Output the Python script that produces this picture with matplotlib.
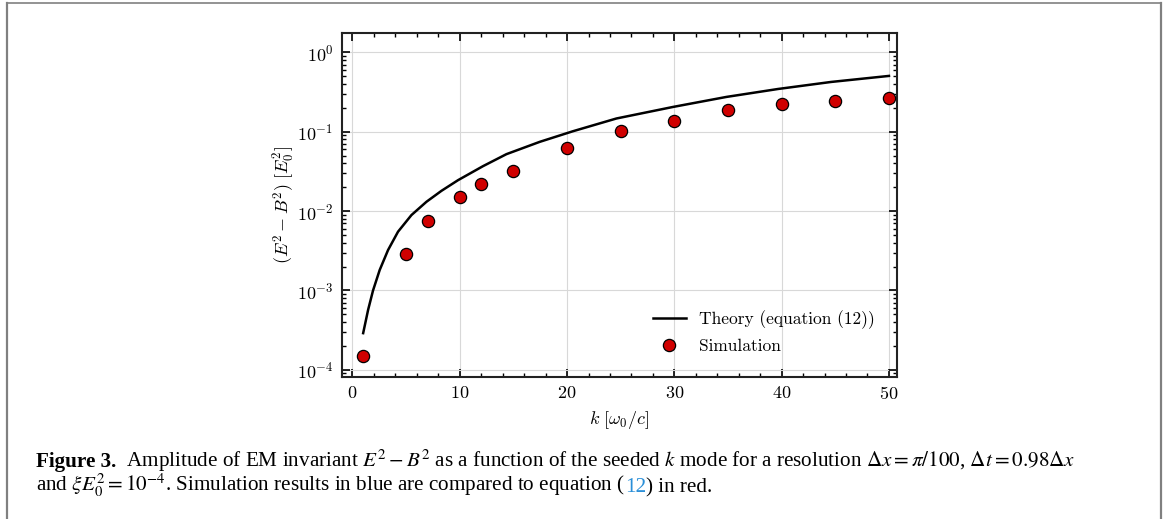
import matplotlib
matplotlib.use("Agg")
import matplotlib.pyplot as plt
from matplotlib.lines import Line2D
from matplotlib.ticker import MultipleLocator, LogLocator, NullFormatter

# ---- data ----
theory_k = [1.0, 1.46, 1.92, 2.54, 3.32, 4.25, 5.5, 6.9, 8.3, 9.84, 12.17,
            14.35, 17.46, 20.56, 24.6, 29.88, 34.85, 39.66, 44.6, 50.0]
theory_val = [2.9e-4, 5.69e-4, 1.0e-3, 1.81e-3, 3.23e-3, 5.5e-3, 8.91e-3,
              0.0131, 0.0180, 0.0245, 0.0368, 0.0521, 0.0745, 0.1014,
              0.1466, 0.205, 0.274, 0.345, 0.423, 0.504]
sim_k = [1, 5, 7, 10, 12, 15, 20, 25, 30, 35, 40, 45, 50]
sim_val = [1.49e-4, 2.88e-3, 7.6e-3, 0.0149, 0.0219, 0.0318, 0.0615,
           0.101, 0.137, 0.190, 0.222, 0.244, 0.264]
xticks = [0, 10, 20, 30, 40, 50]

plt.rcParams['mathtext.fontset'] = 'cm'
plt.rcParams['font.family'] = 'serif'
plt.rcParams['font.serif'] = ['cmr10', 'DejaVu Serif']
plt.rcParams['axes.formatter.use_mathtext'] = True

W, H = 1165, 519
fig = plt.figure(figsize=(W / 100, H / 100), dpi=100)
ax = fig.add_axes([341.7 / W, 1 - 376.7 / H, (897 - 341.7) / W, (376.7 - 33) / H])

ax.set_yscale('log')
ax.grid(True, which='major', color='#d8d8d8', linewidth=0.8, zorder=0)
ax.plot(theory_k, theory_val, color='black', lw=1.8, label='Theory (equation (12))',
        zorder=3, solid_joinstyle='round')
ax.plot(sim_k, sim_val, 'o', color='#d00000', markeredgecolor='black',
        markeredgewidth=0.9, markersize=8.8, label='Simulation', zorder=4)

ax.set_xlim(-1, 50.75)
ax.set_ylim(8.2e-5, 1.75)
ax.set_xticks(xticks)
ax.xaxis.set_minor_locator(MultipleLocator(2))
ax.yaxis.set_major_locator(LogLocator(base=10, numticks=10))
ax.yaxis.set_minor_locator(LogLocator(base=10, subs=range(2, 10), numticks=20))
ax.yaxis.set_minor_formatter(NullFormatter())
ax.tick_params(which='both', direction='in', top=True, right=True, labelsize=13, colors='black')
ax.tick_params(which='major', length=6, width=1.2, pad=6)
ax.tick_params(which='minor', length=3, width=1.0)
for s in ax.spines.values():
    s.set_linewidth(1.5)
    s.set_color('#222222')

ax.set_xlabel(r'$k\ [\omega_0/c]$', fontsize=13, labelpad=5)
ax.set_ylabel(r'$(E^2-B^2)\ [E_0^2]$', fontsize=13, labelpad=0)

leg = ax.legend(loc='lower right', frameon=False, fontsize=12.5, handlelength=1.9,
                borderaxespad=0.9, labelspacing=0.55, handletextpad=0.75)

# ---- figure frame ----
gray = '#808080'
fig.add_artist(Line2D([7 / W, 7 / W], [0, 1 - 3 / H], color=gray, lw=1.6, transform=fig.transFigure))
fig.add_artist(Line2D([1160.5 / W, 1160.5 / W], [0, 1 - 3 / H], color=gray, lw=1.6, transform=fig.transFigure))
fig.add_artist(Line2D([7 / W, 1160.5 / W], [1 - 3 / H, 1 - 3 / H], color=gray, lw=1.2, transform=fig.transFigure))

# ---- caption ----
renderer = fig.canvas.get_renderer()
cap_font = ['Liberation Serif', 'DejaVu Serif']
fs = 15.2


def put(pieces, x0, y):
    x = x0
    for txt, kw in pieces:
        t = fig.text(x / W, 1 - y / H, txt, fontsize=fs, family=cap_font, va='baseline',
                     math_fontfamily='stix', **kw)
        bb = t.get_window_extent(renderer=renderer)
        x += bb.width


put([('Figure 3.', dict(weight='bold')),
     (r'  Amplitude of EM invariant $E^2 - B^2$ as a function of the seeded $k$ mode for a resolution '
      r'$\Delta x = \pi/100$, $\Delta t = 0.98\Delta x$', {})], 36, 467)
put([(r'and $\xi E_0^2 = 10^{-4}$. Simulation results in blue are compared to equation (', {}),
     ('12', dict(color='#2a8fd8')),
     (') in red.', {})], 36, 492)

fig.savefig('out.png', dpi=100)
